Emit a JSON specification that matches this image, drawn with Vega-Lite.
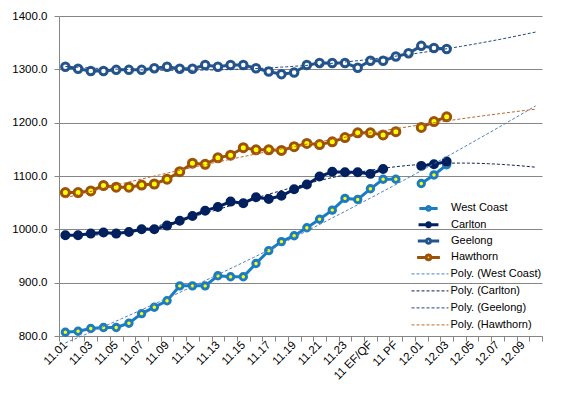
{
  "$schema": "https://vega.github.io/schema/vega-lite/v6.json",
  "width": 483,
  "height": 320,
  "autosize": "none",
  "padding": {"left": 59, "top": 16, "right": 21, "bottom": 66},
  "background": "white",
  "config": {"font": "Liberation Sans", "view": {"stroke": null}},
  "data": {"values": [
    {"i":1,"team":"West Coast","trend":"Poly. (West Coast)","v":807},
    {"i":2,"team":"West Coast","trend":"Poly. (West Coast)","v":809},
    {"i":3,"team":"West Coast","trend":"Poly. (West Coast)","v":814},
    {"i":4,"team":"West Coast","trend":"Poly. (West Coast)","v":816},
    {"i":5,"team":"West Coast","trend":"Poly. (West Coast)","v":816},
    {"i":6,"team":"West Coast","trend":"Poly. (West Coast)","v":824},
    {"i":7,"team":"West Coast","trend":"Poly. (West Coast)","v":842},
    {"i":8,"team":"West Coast","trend":"Poly. (West Coast)","v":854},
    {"i":9,"team":"West Coast","trend":"Poly. (West Coast)","v":866},
    {"i":10,"team":"West Coast","trend":"Poly. (West Coast)","v":894},
    {"i":11,"team":"West Coast","trend":"Poly. (West Coast)","v":894},
    {"i":12,"team":"West Coast","trend":"Poly. (West Coast)","v":894},
    {"i":13,"team":"West Coast","trend":"Poly. (West Coast)","v":913},
    {"i":14,"team":"West Coast","trend":"Poly. (West Coast)","v":911},
    {"i":15,"team":"West Coast","trend":"Poly. (West Coast)","v":911},
    {"i":16,"team":"West Coast","trend":"Poly. (West Coast)","v":936},
    {"i":17,"team":"West Coast","trend":"Poly. (West Coast)","v":960},
    {"i":18,"team":"West Coast","trend":"Poly. (West Coast)","v":977},
    {"i":19,"team":"West Coast","trend":"Poly. (West Coast)","v":988},
    {"i":20,"team":"West Coast","trend":"Poly. (West Coast)","v":1003},
    {"i":21,"team":"West Coast","trend":"Poly. (West Coast)","v":1019},
    {"i":22,"team":"West Coast","trend":"Poly. (West Coast)","v":1036},
    {"i":23,"team":"West Coast","trend":"Poly. (West Coast)","v":1058},
    {"i":24,"team":"West Coast","trend":"Poly. (West Coast)","v":1056},
    {"i":25,"team":"West Coast","trend":"Poly. (West Coast)","v":1076},
    {"i":26,"team":"West Coast","trend":"Poly. (West Coast)","v":1094},
    {"i":27,"team":"West Coast","trend":"Poly. (West Coast)","v":1094},
    {"i":28,"team":"West Coast","trend":"Poly. (West Coast)","v":null},
    {"i":29,"team":"West Coast","trend":"Poly. (West Coast)","v":1086},
    {"i":30,"team":"West Coast","trend":"Poly. (West Coast)","v":1102},
    {"i":31,"team":"West Coast","trend":"Poly. (West Coast)","v":1121},
    {"i":1,"team":"Carlton","trend":"Poly. (Carlton)","v":989},
    {"i":2,"team":"Carlton","trend":"Poly. (Carlton)","v":989},
    {"i":3,"team":"Carlton","trend":"Poly. (Carlton)","v":992},
    {"i":4,"team":"Carlton","trend":"Poly. (Carlton)","v":994},
    {"i":5,"team":"Carlton","trend":"Poly. (Carlton)","v":992},
    {"i":6,"team":"Carlton","trend":"Poly. (Carlton)","v":995},
    {"i":7,"team":"Carlton","trend":"Poly. (Carlton)","v":1000},
    {"i":8,"team":"Carlton","trend":"Poly. (Carlton)","v":1000},
    {"i":9,"team":"Carlton","trend":"Poly. (Carlton)","v":1007},
    {"i":10,"team":"Carlton","trend":"Poly. (Carlton)","v":1016},
    {"i":11,"team":"Carlton","trend":"Poly. (Carlton)","v":1025},
    {"i":12,"team":"Carlton","trend":"Poly. (Carlton)","v":1035},
    {"i":13,"team":"Carlton","trend":"Poly. (Carlton)","v":1042},
    {"i":14,"team":"Carlton","trend":"Poly. (Carlton)","v":1052},
    {"i":15,"team":"Carlton","trend":"Poly. (Carlton)","v":1049},
    {"i":16,"team":"Carlton","trend":"Poly. (Carlton)","v":1060},
    {"i":17,"team":"Carlton","trend":"Poly. (Carlton)","v":1057},
    {"i":18,"team":"Carlton","trend":"Poly. (Carlton)","v":1063},
    {"i":19,"team":"Carlton","trend":"Poly. (Carlton)","v":1075},
    {"i":20,"team":"Carlton","trend":"Poly. (Carlton)","v":1084},
    {"i":21,"team":"Carlton","trend":"Poly. (Carlton)","v":1099},
    {"i":22,"team":"Carlton","trend":"Poly. (Carlton)","v":1108},
    {"i":23,"team":"Carlton","trend":"Poly. (Carlton)","v":1107},
    {"i":24,"team":"Carlton","trend":"Poly. (Carlton)","v":1107},
    {"i":25,"team":"Carlton","trend":"Poly. (Carlton)","v":1104},
    {"i":26,"team":"Carlton","trend":"Poly. (Carlton)","v":1113},
    {"i":27,"team":"Carlton","trend":"Poly. (Carlton)","v":null},
    {"i":28,"team":"Carlton","trend":"Poly. (Carlton)","v":null},
    {"i":29,"team":"Carlton","trend":"Poly. (Carlton)","v":1119},
    {"i":30,"team":"Carlton","trend":"Poly. (Carlton)","v":1122},
    {"i":31,"team":"Carlton","trend":"Poly. (Carlton)","v":1127},
    {"i":1,"team":"Geelong","trend":"Poly. (Geelong)","v":1305},
    {"i":2,"team":"Geelong","trend":"Poly. (Geelong)","v":1301},
    {"i":3,"team":"Geelong","trend":"Poly. (Geelong)","v":1297},
    {"i":4,"team":"Geelong","trend":"Poly. (Geelong)","v":1297},
    {"i":5,"team":"Geelong","trend":"Poly. (Geelong)","v":1299},
    {"i":6,"team":"Geelong","trend":"Poly. (Geelong)","v":1299},
    {"i":7,"team":"Geelong","trend":"Poly. (Geelong)","v":1299},
    {"i":8,"team":"Geelong","trend":"Poly. (Geelong)","v":1302},
    {"i":9,"team":"Geelong","trend":"Poly. (Geelong)","v":1305},
    {"i":10,"team":"Geelong","trend":"Poly. (Geelong)","v":1301},
    {"i":11,"team":"Geelong","trend":"Poly. (Geelong)","v":1301},
    {"i":12,"team":"Geelong","trend":"Poly. (Geelong)","v":1308},
    {"i":13,"team":"Geelong","trend":"Poly. (Geelong)","v":1305},
    {"i":14,"team":"Geelong","trend":"Poly. (Geelong)","v":1308},
    {"i":15,"team":"Geelong","trend":"Poly. (Geelong)","v":1308},
    {"i":16,"team":"Geelong","trend":"Poly. (Geelong)","v":1302},
    {"i":17,"team":"Geelong","trend":"Poly. (Geelong)","v":1296},
    {"i":18,"team":"Geelong","trend":"Poly. (Geelong)","v":1291},
    {"i":19,"team":"Geelong","trend":"Poly. (Geelong)","v":1294},
    {"i":20,"team":"Geelong","trend":"Poly. (Geelong)","v":1308},
    {"i":21,"team":"Geelong","trend":"Poly. (Geelong)","v":1312},
    {"i":22,"team":"Geelong","trend":"Poly. (Geelong)","v":1312},
    {"i":23,"team":"Geelong","trend":"Poly. (Geelong)","v":1312},
    {"i":24,"team":"Geelong","trend":"Poly. (Geelong)","v":1303},
    {"i":25,"team":"Geelong","trend":"Poly. (Geelong)","v":1316},
    {"i":26,"team":"Geelong","trend":"Poly. (Geelong)","v":1316},
    {"i":27,"team":"Geelong","trend":"Poly. (Geelong)","v":1324},
    {"i":28,"team":"Geelong","trend":"Poly. (Geelong)","v":1330},
    {"i":29,"team":"Geelong","trend":"Poly. (Geelong)","v":1344},
    {"i":30,"team":"Geelong","trend":"Poly. (Geelong)","v":1340},
    {"i":31,"team":"Geelong","trend":"Poly. (Geelong)","v":1338},
    {"i":1,"team":"Hawthorn","trend":"Poly. (Hawthorn)","v":1069},
    {"i":2,"team":"Hawthorn","trend":"Poly. (Hawthorn)","v":1069},
    {"i":3,"team":"Hawthorn","trend":"Poly. (Hawthorn)","v":1072},
    {"i":4,"team":"Hawthorn","trend":"Poly. (Hawthorn)","v":1082},
    {"i":5,"team":"Hawthorn","trend":"Poly. (Hawthorn)","v":1079},
    {"i":6,"team":"Hawthorn","trend":"Poly. (Hawthorn)","v":1079},
    {"i":7,"team":"Hawthorn","trend":"Poly. (Hawthorn)","v":1083},
    {"i":8,"team":"Hawthorn","trend":"Poly. (Hawthorn)","v":1085},
    {"i":9,"team":"Hawthorn","trend":"Poly. (Hawthorn)","v":1094},
    {"i":10,"team":"Hawthorn","trend":"Poly. (Hawthorn)","v":1108},
    {"i":11,"team":"Hawthorn","trend":"Poly. (Hawthorn)","v":1124},
    {"i":12,"team":"Hawthorn","trend":"Poly. (Hawthorn)","v":1122},
    {"i":13,"team":"Hawthorn","trend":"Poly. (Hawthorn)","v":1134},
    {"i":14,"team":"Hawthorn","trend":"Poly. (Hawthorn)","v":1139},
    {"i":15,"team":"Hawthorn","trend":"Poly. (Hawthorn)","v":1153},
    {"i":16,"team":"Hawthorn","trend":"Poly. (Hawthorn)","v":1149},
    {"i":17,"team":"Hawthorn","trend":"Poly. (Hawthorn)","v":1149},
    {"i":18,"team":"Hawthorn","trend":"Poly. (Hawthorn)","v":1148},
    {"i":19,"team":"Hawthorn","trend":"Poly. (Hawthorn)","v":1155},
    {"i":20,"team":"Hawthorn","trend":"Poly. (Hawthorn)","v":1161},
    {"i":21,"team":"Hawthorn","trend":"Poly. (Hawthorn)","v":1159},
    {"i":22,"team":"Hawthorn","trend":"Poly. (Hawthorn)","v":1164},
    {"i":23,"team":"Hawthorn","trend":"Poly. (Hawthorn)","v":1172},
    {"i":24,"team":"Hawthorn","trend":"Poly. (Hawthorn)","v":1181},
    {"i":25,"team":"Hawthorn","trend":"Poly. (Hawthorn)","v":1181},
    {"i":26,"team":"Hawthorn","trend":"Poly. (Hawthorn)","v":1177},
    {"i":27,"team":"Hawthorn","trend":"Poly. (Hawthorn)","v":1183},
    {"i":28,"team":"Hawthorn","trend":"Poly. (Hawthorn)","v":null},
    {"i":29,"team":"Hawthorn","trend":"Poly. (Hawthorn)","v":1191},
    {"i":30,"team":"Hawthorn","trend":"Poly. (Hawthorn)","v":1202},
    {"i":31,"team":"Hawthorn","trend":"Poly. (Hawthorn)","v":1211}
  ]},
  "encoding": {
    "x": {
      "field": "i", "type": "quantitative",
      "scale": {"domain": [0.5, 38.5], "nice": false, "zero": false},
      "axis": {
        "title": null, "grid": false,
        "values": [0.5,1,1.5,2.5,3,3.5,4.5,5,5.5,6.5,7,7.5,8.5,9,9.5,10.5,11,11.5,12.5,13,13.5,14.5,15,15.5,16.5,17,17.5,18.5,19,19.5,20.5,21,21.5,22.5,23,23.5,24.5,25,25.5,26.5,27,27.5,28.5,29,29.5,30.5,31,31.5,32.5,33,33.5,34.5,35,35.5,36.5,37,37.5,38.5],
        "labelExpr": "datum.value % 1 === 0 ? ['11.01','11.02','11.03','11.04','11.05','11.06','11.07','11.08','11.09','11.10','11.11','11.12','11.13','11.14','11.15','11.16','11.17','11.18','11.19','11.20','11.21','11.22','11.23','11.24','11 EF/QF','11 SF','11 PF','11 GF','12.01','12.02','12.03','12.04','12.05','12.06','12.07','12.08','12.09','12.10'][datum.value - 1] : ''",
        "tickOpacity": {"condition": {"test": "datum.value % 1 !== 0", "value": 1}, "value": 0},
        "tickSize": 5, "tickColor": "#868686", "domainColor": "#868686",
        "labelAngle": -45, "labelAlign": "right", "labelBaseline": "middle",
        "labelPadding": 2, "labelFontSize": 11.5, "labelColor": "#000000",
        "labelOverlap": false, "labelFlush": false, "labelBound": false
      }
    },
    "y": {
      "field": "v", "type": "quantitative",
      "scale": {"domain": [800, 1400], "nice": false, "zero": false},
      "axis": {
        "title": null, "values": [800,900,1000,1100,1200,1300,1400], "format": ".1f",
        "grid": true, "gridColor": "#868686", "gridWidth": 1,
        "domainColor": "#868686", "tickColor": "#868686", "tickSize": 5,
        "labelFontSize": 11.5, "labelColor": "#000000", "labelPadding": 7
      }
    }
  },
  "layer": [
    {
      "mark": {"type": "line", "strokeWidth": 3},
      "encoding": {
        "stroke": {"field": "team", "type": "nominal", "scale": {"domain": ["West Coast","Carlton","Geelong","Hawthorn"], "range": ["#1B7CC2","#002060","#25548C","#9C5208"]}}
      }
    },
    {
      "mark": {"type": "point", "filled": true, "shape": "circle", "strokeWidth": 3, "opacity": 1},
      "encoding": {
        "stroke": {"field": "team", "type": "nominal",
          "legend": {"orient": "none", "legendX": 364, "legendY": 186.9, "title": null, "padding": 0,
            "symbolSize": 169, "symbolStrokeWidth": 3, "symbolOpacity": 1,
            "symbolType": "M-2.85,0H-0.57M0.57,0H2.85M-0.57,0C-0.57,-0.315,-0.315,-0.57,0,-0.57C0.315,-0.57,0.57,-0.315,0.57,0C0.57,0.315,0.315,0.57,0,0.57C-0.315,0.57,-0.57,0.315,-0.57,0Z",
            "labelFontSize": 11, "labelOffset": 17, "rowPadding": -0.67, "labelColor": "#000000", "labelLimit": 200}},
        "fill": {"field": "team", "type": "nominal", "scale": {"domain": ["West Coast","Carlton","Geelong","Hawthorn"], "range": ["#FFFF00","#002060","#FFFFFF","#FFFF00"]},
          "legend": {"orient": "none", "legendX": 364, "legendY": 186.9, "title": null, "padding": 0,
            "symbolSize": 169, "symbolStrokeWidth": 3, "symbolOpacity": 1,
            "symbolType": "M-2.85,0H-0.57M0.57,0H2.85M-0.57,0C-0.57,-0.315,-0.315,-0.57,0,-0.57C0.315,-0.57,0.57,-0.315,0.57,0C0.57,0.315,0.315,0.57,0,0.57C-0.315,0.57,-0.57,0.315,-0.57,0Z",
            "labelFontSize": 11, "labelOffset": 17, "rowPadding": -0.67, "labelColor": "#000000", "labelLimit": 200}},
        "size": {"field": "team", "type": "nominal", "scale": {"domain": ["West Coast","Carlton","Geelong","Hawthorn"], "range": [41,64,50,50]}, "legend": null}
      }
    },
    {
      "transform": [
        {"filter": "datum.team !== 'Carlton'"},
        {"regression": "v", "on": "i", "groupby": ["trend"], "method": "poly", "order": 2, "extent": [1, 38]}
      ],
      "mark": {"type": "line", "strokeWidth": 1, "strokeDash": [3, 2]},
      "encoding": {
        "color": {"field": "trend", "type": "nominal",
          "scale": {"domain": ["Poly. (West Coast)","Poly. (Carlton)","Poly. (Geelong)","Poly. (Hawthorn)"], "range": ["#4F81BD","#0A1F55","#1F497D","#C0682A"]},
          "legend": {"orient": "none", "legendX": 363.5, "legendY": 250.4, "title": null, "padding": 0,
            "symbolSize": 196, "symbolStrokeWidth": 1, "symbolDash": [3, 2], "symbolOpacity": 1,
            "symbolType": "M-2.64,0H2.64",
            "labelFontSize": 11, "labelOffset": 13, "rowPadding": 4, "labelColor": "#000000", "labelLimit": 200}}
      }
    },
    {
      "transform": [
        {"filter": "datum.team === 'Carlton'"},
        {"regression": "v", "on": "i", "groupby": ["trend"], "method": "poly", "order": 4, "extent": [1, 38]}
      ],
      "mark": {"type": "line", "strokeWidth": 1, "strokeDash": [3, 2]},
      "encoding": {
        "color": {"field": "trend", "type": "nominal"}
      }
    }
  ]
}
